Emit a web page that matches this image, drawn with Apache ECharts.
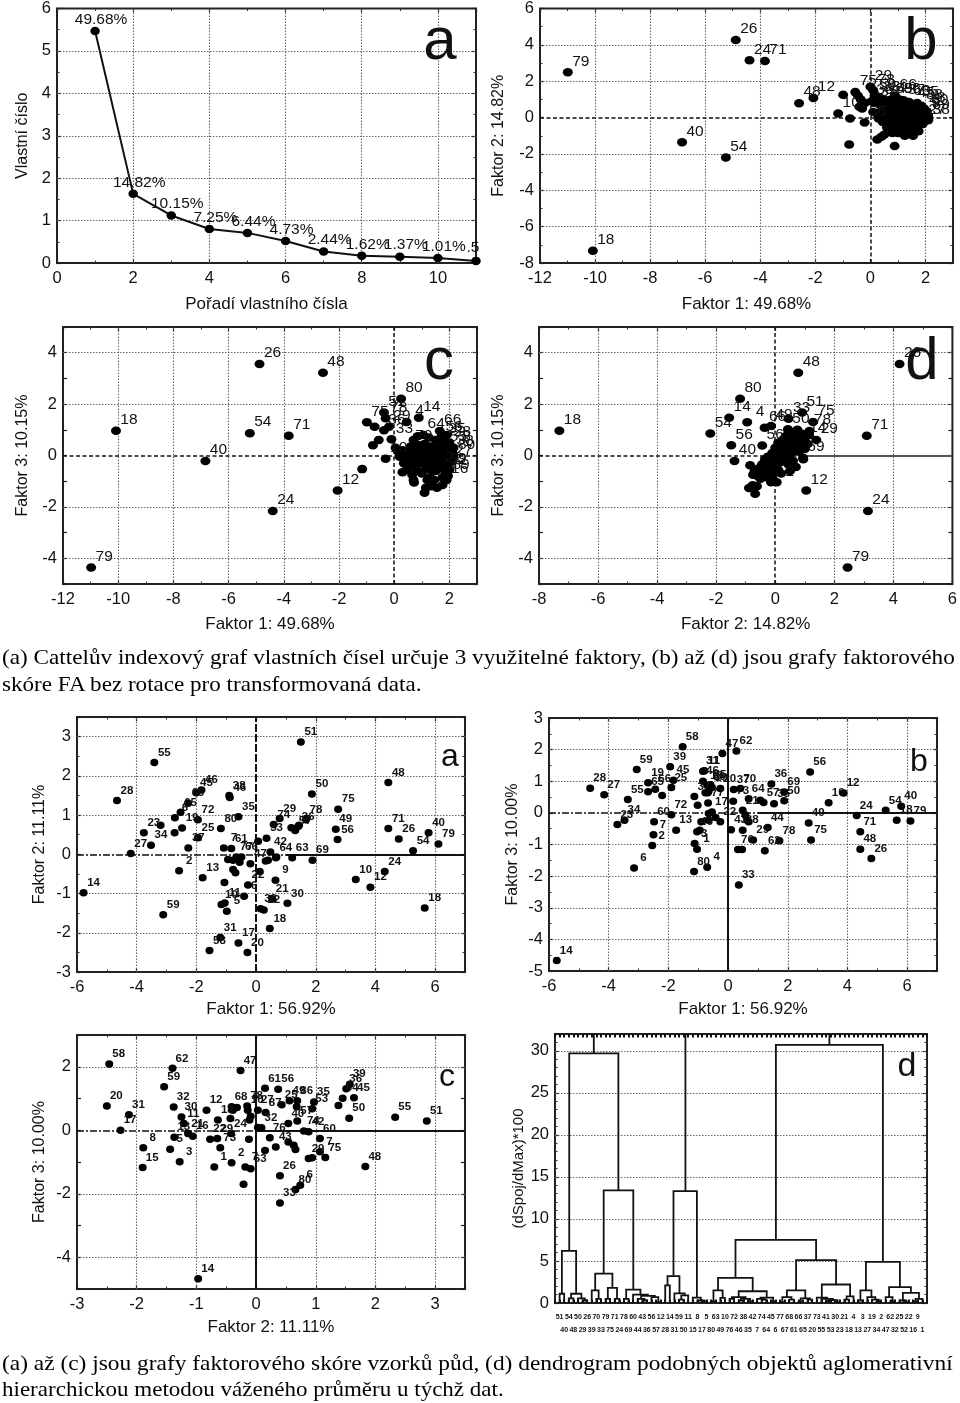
<!DOCTYPE html>
<html><head><meta charset="utf-8">
<script src="https://cdn.jsdelivr.net/npm/echarts@6/dist/echarts.min.js"></script>
<style>
html,body{margin:0;padding:0;background:#fff;width:960px;height:1403px;overflow:hidden}
#chart{position:absolute;left:0;top:0;width:960px;height:1403px;filter:blur(0.45px)}
.cap{position:absolute;left:2px;font-family:"Liberation Serif",serif;font-size:21px;line-height:24px;color:#000;white-space:nowrap;transform-origin:left top}
</style></head><body>
<div id="chart"></div>
<div class="cap" data-w="953" style="top:645px">(a) Cattelův indexový graf vlastních čísel určuje 3 využitelné faktory, (b) až (d) jsou grafy faktorového</div>
<div class="cap" data-w="420" style="top:672px">skóre FA bez rotace pro transformovaná data.</div>
<div class="cap" data-w="951" style="top:1351px">(a) až (c) jsou grafy faktorového skóre vzorků půd, (d) dendrogram podobných objektů aglomerativní</div>
<div class="cap" data-w="502" style="top:1377px">hierarchickou metodou váženého průměru u týchž dat.</div>
<script>
document.querySelectorAll('.cap').forEach(c=>{c.style.transform='scaleX('+(+c.dataset.w/c.offsetWidth)+')';});
// ---- scree plot values
const screeOrder = [1,2,3,4,5,6,7,8,9,10,11];
const screeValues = [5.47,1.63,1.12,0.80,0.71,0.52,0.27,0.17,0.15,0.12,0.05];
const screeLabels = ['49.68%','14.82%','10.15%','7.25%','6.44%','4.73%','2.44%','1.62%','1.37%','1.01%','.5'];

// ---- upper panels: factor scores [x, y, label]
const upperB = [[-10.99,2.49,'79'],[-4.89,4.27,'26'],[-4.39,3.15,'24'],[-3.83,3.11,'71'],[-2.59,.79,'48'],[-2.07,1.08,'12'],[-.99,1.25,''],[-1.17,.22,'10'],[-.74,-.05,''],[-.21,-.27,'56'],[-.77,-1.48,''],[.88,-1.56,''],[-6.84,-1.36,'40'],[-5.25,-2.2,'54'],[-10.08,-7.33,'18'],
[-.55,1.4,'75'],[-.45,1.2,''],[-.35,1,''],[-.2,.8,''],[-.4,.6,''],[-.3,.5,''],[0,1.7,'29'],[.1,1.5,'78'],[.15,1.2,'50'],[.3,1.1,'33'],[.05,.9,'36'],[.2,.8,'35'],[.35,.7,''],[.5,1,'14'],[.6,.85,''],[.75,1,'69'],[.9,1.2,'66'],[.7,.6,''],[.9,.7,''],[1.05,1,'86'],[1.2,.95,'37'],[1.4,.85,'60'],[1.55,.75,'45'],[1.7,.8,'55'],[1.85,.65,'38'],[1.95,.5,'28'],[2.05,.35,'80'],[2.1,.1,'89'],[2.1,-.15,'38'],[1.95,-.2,'27'],[1.9,.2,'9'],[1.8,.3,''],[1.6,.45,''],[1.4,.5,''],[1.2,.6,''],[1,.45,''],[.8,.3,''],[.6,.4,''],[.4,.35,''],[.25,.2,''],[.1,.3,''],[.3,-.05,''],[.5,.05,''],[.7,.05,''],[.9,.15,''],[1.1,.2,''],[1.3,.25,''],[1.5,.15,''],[1.7,.05,''],[1.9,-.05,''],[1.9,-.35,''],[.45,-.25,''],[.65,-.3,''],[.85,-.25,''],[1.05,-.15,''],[1.25,-.05,''],[1.45,-.1,''],[1.65,-.25,''],[1.75,-.45,''],[.6,-.55,''],[.8,-.6,''],[1,-.5,''],[1.2,-.4,''],[1.4,-.45,''],[1.6,-.6,''],[1.75,-.75,''],[1.3,-.7,''],[1.5,-.85,''],[1.55,-1,''],[.5,-.95,''],[.4,-1.05,''],[.25,-1.2,''],[1,-.85,''],[1.25,-1,''],[.8,-.85,''],[1.35,.6,''],[.95,.3,'']];

const upperC = [[-10.98,-4.36,'79'],[-10.08,.96,'18'],[-4.88,3.56,'26'],[-2.58,3.22,'48'],[-5.23,.87,'54'],[-3.82,.77,'71'],[-6.84,-.21,'40'],[-4.4,-2.16,'24'],[-2.05,-1.36,'12'],[-1.16,-.53,''],[-.31,-.13,'10'],[-.99,1.29,'75'],[-.71,1.12,''],[-.31,1.45,'78'],[-.37,1.67,'51'],[.25,2.21,'80'],[.89,1.47,'14'],[.45,1.3,'4'],[-.77,.4,''],[-.56,.6,''],[-.37,.98,'36'],[-.19,1.12,'29'],[-.1,.63,'33'],
[.05,.3,''],[.15,.15,''],[.2,-.05,''],[.3,.2,''],[.35,-.3,''],[.3,-.65,''],[.45,-.55,''],[.45,-.15,''],[.5,.1,''],[.55,-.4,''],[.65,-.75,''],[.7,-.95,''],[.72,-1.05,''],[.8,-.55,''],[.85,-.3,''],[.7,-.1,''],[.75,.15,''],[.6,.35,'70'],[.7,.6,''],[.85,.75,''],[.9,.4,''],[1,.2,''],[1,-.05,''],[1,-.3,''],[1,-.7,''],[1.15,-.5,''],[1.1,-.15,''],[1.15,.1,''],[1.1,.45,''],[1.05,.8,'64'],[1.25,.7,''],[1.3,.35,''],[1.3,.05,''],[1.3,-.25,''],[1.3,-.55,''],[1.3,-.85,''],[1.15,-1.25,''],[1.35,-1.2,''],[1.1,-1.45,''],[1.55,-1.25,''],[1.45,-.95,''],[1.5,-.6,''],[1.5,-.3,''],[1.5,0,''],[1.5,.3,''],[1.5,.6,''],[1.65,.95,'66'],[1.7,.7,'56'],[1.75,.4,''],[1.7,.1,''],[1.7,-.2,''],[1.7,-.5,'22'],[1.75,-.85,''],[1.75,-1.15,''],[1.9,-.95,'16'],[1.85,-.6,'52'],[1.95,-.3,''],[1.95,0,''],[1.85,.3,'55'],[1.8,.6,'35'],[1.9,.8,''],[2,.5,'28'],[2.1,.15,'38'],[2.05,-.25,'27'],[2,-.55,'9'],[1.95,-.8,'89'],[2.15,.3,'8'],[2.15,0,'80'],[2.1,-.1,''],[.85,.15,''],[1.2,-.95,''],[.55,-.15,'']];

const upperD = [[-7.31,.96,'18'],[4.21,3.56,'26'],[.78,3.22,'48'],[3.1,.77,'71'],[3.14,-2.16,'24'],[2.45,-4.36,'79'],[1.05,-1.36,'12'],[-2.2,.86,'54'],[-1.56,1.47,'14'],[-1.19,2.21,'80'],[-.95,1.29,'4'],[-1.49,.4,'56'],[-1.38,-.21,'40'],[.91,1.67,'51'],[.45,1.43,'33'],[1.28,1.3,'75'],[1.16,.95,'78'],[1.39,.6,'29'],[.94,-.09,'69'],[.43,1.02,'50'],[-.36,1.08,'66'],[-.14,1.15,'49'],[-.85,-.38,''],[-.89,-1.26,''],[-.76,-1.16,''],[-.62,-1.2,''],[-.68,-1.49,''],[-.14,-1.04,''],[-.44,.39,'56'],[.05,-1.04,'2'],
[-.75,-.75,''],[-.7,-.6,''],[-.6,-.8,''],[-.55,-.5,''],[-.5,-.9,''],[-.45,-.35,''],[-.4,-.7,''],[-.35,-.15,''],[-.3,-.5,''],[-.3,-.85,''],[-.25,-.05,''],[-.2,-.3,''],[-.15,-.6,''],[-.1,.1,''],[-.1,-.15,''],[-.1,-.85,''],[-.05,-.4,''],[0,.3,''],[0,-.1,''],[0,-.65,''],[.05,.1,''],[.05,-.3,''],[.1,.5,''],[.1,-.05,''],[.1,-.55,''],[.15,.25,''],[.2,.05,''],[.2,-.25,''],[.2,-.7,''],[.25,.6,''],[.25,.35,''],[.3,.15,''],[.3,-.1,''],[.35,.75,''],[.35,.45,''],[.4,.25,''],[.4,-.05,''],[.45,-.35,''],[.45,.95,''],[.5,.6,''],[.5,.35,''],[.55,.1,''],[.6,.85,''],[.6,.5,''],[.6,-.2,''],[.65,.25,''],[.7,.7,''],[.7,.4,''],[.75,1,''],[.8,.6,''],[.8,.15,''],[.85,.35,''],[.9,.85,''],[.9,.5,''],[1,.65,'14'],[1,.25,''],[1.1,.45,''],[1.15,.8,''],[.95,-.15,''],[.7,-.45,''],[.5,-.6,'']];

// ---- lower panels: factor scores [x, y, label]
const lowerA = [[1.5,2.86,'51'],[-3.41,2.34,'55'],[4.43,1.83,'48'],[-4.66,1.37,'28'],[1.87,1.54,'50'],[-2,1.57,'45'],[-1.83,1.64,'46'],[-.9,1.5,'38'],[-.88,1.45,'46'],[-.59,.96,'35'],[2.75,1.15,'75'],[.79,.91,'29'],[.59,.76,'74'],[.35,.41,'33'],[1.67,.88,'78'],[1.41,.71,'36'],[1.18,.68,''],[1.31,.61,'57'],[1.44,.74,''],[1.69,.91,''],[2.67,.64,'49'],[2.73,.38,'56'],[4.43,.66,'71'],[4.78,.39,'26'],[5.78,.55,'40'],[6.11,.26,'79'],[5.26,.09,'54'],[1.89,-.15,'69'],[1.21,-.09,'63'],[.48,.06,'42'],[.66,-.09,'64'],[4.31,-.44,'24'],[3.34,-.64,'10'],[3.83,-.84,'12'],[5.65,-1.37,'18'],[.65,-.66,'9'],[.54,-1.13,'21'],[.15,-1.39,'38'],[.26,-1.42,'22'],[1.05,-1.25,'30'],[.46,-1.89,'18'],[.12,-.44,''],[-.27,-.78,'22'],[-.4,-1.07,'6'],[-1.2,-2.12,'31'],[-.59,-2.26,'17'],[-.29,-2.5,'20'],[-1.56,-2.45,'58'],[-3.11,-1.54,'59'],[-5.78,-.98,'14'],[-1.79,-.6,'13'],[-2.58,-.42,'2'],[-4.2,.02,'27'],[-3.52,.23,'34'],[-3.76,.55,'23'],[-3.2,.74,''],[-2.72,.93,'6'],[-2.53,1.07,'65'],[-2.28,1.3,'60'],[-2.48,.67,'19'],[-2.73,.55,''],[-1.95,.88,'72'],[-1.95,.42,'25'],[-2.27,.16,'37'],[-1.18,.66,'80'],[-1.08,.16,'7'],[-.83,.15,'61'],[-.66,-.07,'77'],[-.19,-.24,'47'],[-.94,-.13,''],[-.77,-.15,''],[-.6,-.11,''],[-.77,-.39,''],[-.69,-.47,''],[-.49,-.07,'66'],[-.55,-.2,''],[-1.06,-.72,''],[-1.16,-1.28,'10'],[-1.05,-1.24,'11'],[-.98,-1.45,'5'],[.07,.33,''],[.32,-.17,''],[.68,-.07,''],[.4,-.15,'']];

const lowerB = [[-5.74,-4.67,'14'],[.36,-2.28,'33'],[-1.14,-1.85,'80'],[-.7,-1.72,'4'],[-3.15,-1.74,'6'],[-2.5,-.69,'7'],[-2.54,-1.03,'2'],[-2.48,-.28,'60'],[-1.74,-.55,'13'],[-1.9,-.06,'72'],[-3.71,-.37,'23'],[-3.47,-.23,'34'],[-3.36,.42,'55'],[-4.15,.57,'27'],[-4.62,.78,'28'],[-3.06,1.37,'59'],[-2.68,.95,'19'],[-2.68,.67,'65'],[-2.44,.75,'66'],[-2.21,.55,''],[-1.94,1.46,'39'],[-1.83,1.03,'45'],[-1.9,.8,'25'],[-1.52,2.09,'58'],[-.19,1.88,'47'],[.28,1.96,'62'],[-.84,1.32,'31'],[-.79,1.33,'11'],[-.84,1,'46'],[-.7,.87,'16'],[-.62,.82,'86'],[-.59,.89,'55'],[-.76,.64,''],[-.65,.69,''],[-.54,.8,'19'],[-.68,.64,''],[-.26,.77,'20'],[-1.13,.52,'37'],[-1.02,.24,''],[-.67,.31,'77'],[-.54,.03,'17'],[-.65,-.02,''],[-.42,-.15,''],[-.26,-.28,'22'],[-.9,-.28,''],[-.65,-.23,''],[-1.04,-.6,'46'],[-.95,-.55,''],[-1.12,-.97,'3'],[-1.04,-1.15,'1'],[.1,-.53,'43'],[.17,.37,'73'],[.19,.74,'37'],[.41,.77,'70'],[.69,.45,'64'],[.49,.08,'21'],[.58,-.07,''],[.64,-.23,''],[.69,-.28,''],[.49,-.55,'38'],[.33,-1.16,'76'],[.47,-1.16,''],[.84,-.86,'29'],[1.23,-1.2,'62'],[1.33,-.46,'44'],[1.72,-.88,'78'],[1.08,.4,''],[1.19,.33,'57'],[1.54,.29,'35'],[1.45,.91,'36'],[1.88,.66,'69'],[1.88,.38,'50'],[2.75,1.29,'56'],[3.37,.32,'10'],[3.87,.63,'12'],[2.7,-.32,'49'],[2.78,-.86,'75'],[4.31,-.08,'24'],[4.43,-.6,'71'],[4.43,-1.15,'48'],[4.8,-1.44,'26'],[5.28,.08,'54'],[5.8,.21,'40'],[5.65,-.23,'18'],[6.11,-.26,'79']];

const lowerC = [[-.97,-4.68,'14'],[-2.46,2.09,'58'],[-1.4,1.95,'62'],[-.26,1.88,'47'],[-1.54,1.37,'59'],[-2.5,.76,'20'],[-2.13,.49,'31'],[-2.27,0,'17'],[-1.89,-.55,'8'],[-1.9,-1.17,'15'],[-1.44,-.6,'5'],[-1.28,-.99,'3'],[-1.38,.73,'32'],[-1.25,.42,'30'],[-1.21,.21,'11'],[-1.14,-.1,'21'],[-1.06,-.19,'16'],[-1.37,-.22,'13'],[-.83,.63,'12'],[-.64,.32,'18'],[-.77,-.28,'22'],[-.65,-.26,'29'],[-.6,-.55,'73'],[-.42,-.1,'24'],[-.12,-.28,''],[-.7,-1.16,'1'],[-.41,-1.02,'2'],[-.18,-1.16,'7'],[-.09,-1.21,'63'],[-.21,-1.7,''],[-.41,.74,'68'],[-.39,.63,''],[-.32,.72,''],[-.43,.37,''],[-.15,.76,'78'],[-.14,.63,'10'],[-.09,.44,''],[-.11,.32,''],[.03,.63,'27'],[.16,.56,'87'],[.15,1.32,'61'],[.37,1.29,'56'],[.43,.8,'25'],[.56,.93,'49'],[.03,.09,''],[.09,.08,'32'],[.23,-.24,'76'],[.33,-.53,'43'],[.15,-.64,''],[.54,.21,'40'],[.54,-.37,''],[.63,-.47,''],[.66,-.61,''],[.69,.93,'86'],[.68,.74,''],[.69,.29,'57'],[.8,-.02,'74'],[.88,-.05,'42'],[.97,.89,'35'],[.94,.68,'53'],[1.07,-.26,'60'],[1.07,-.68,'7'],[.88,-.89,'29'],[.94,-.87,''],[1.16,-.86,'75'],[.4,-1.43,'26'],[.74,-1.73,'6'],[.66,-1.87,'80'],[.4,-2.29,'33'],[1.38,.78,''],[1.45,1.01,'64'],[1.51,1.31,'36'],[1.57,1.45,'39'],[1.64,1.02,'45'],[1.56,.38,'50'],[1.83,-1.14,'48'],[2.33,.41,'55'],[2.86,.29,'51']];

// ---- dendrogram: leaf names in order, and merges [leftX, rightX, leftBase, rightBase, height]
const leafNames = ['51','40','54','48','50','29','26','39','70','33','79','75','71','24','78','69','60','44','43','36','56','57','12','28','14','31','59','50','11','15','8','17','5','80','63','49','10','76','72','46','38','35','42','7','74','64','45','6','77','67','68','61','66','65','37','20','73','55','41','53','30','23','21','18','4','13','3','27','19','34','2','47','62','32','25','52','22','16','9','1'];
const dendroMerges = [
[1,2,0,0,1.1],[3,4,0,0,.55],[6,7,0,0,.3],[5,6.5,0,.3,.55],[3.5,5.75,.55,.55,1.1],[1.5,4.6,1.1,1.1,6.2],
[9,10,0,0,.5],[8,9.5,0,.5,1.5],[11,12,0,0,.5],[13,14,0,0,.5],[11.5,13.5,.5,.5,1.8],[8.75,12.5,1.5,1.8,3.5],
[15,16,0,0,.5],[19,20,0,0,.3],[18,19.5,0,.3,.5],[22,23,0,0,.1],[21,22.5,0,.1,.7],[18.75,21.75,.5,.7,.85],[17,20.25,0,.85,1],[15.5,18.6,.5,1,1.6],[10.6,17.05,3.5,1.6,13.4],
[3.1,13.8,6.2,13.4,29.7],[8.45,8.45,29.7,32,32],
[24,25,0,0,2.1],[27,28,0,0,.4],[27.5,29,.4,0,.9],[26,28.25,0,.9,1.15],[24.5,27.1,2.1,1.15,3.2],
[32,33,0,0,.2],[31,32.5,0,.2,.3],[30,31.75,0,.3,.65],[25.8,30.9,3.2,.65,13.3],[28.4,28.4,13.3,32,32],
[34,35,0,0,.2],[36,37,0,0,.6],[34.5,36.5,.2,.6,1.5],
[38,39,0,0,.5],[40,41,0,0,.3],[42,43,0,0,.2],[40.5,42.5,.3,.2,.5],[38.5,41.5,.5,.5,.7],
[45,46,0,0,.4],[44,45.5,0,.4,.5],[47,48,0,0,.2],[44.75,47.5,.5,.2,.65],[40,46.1,.7,.65,1.4],[35.5,43.05,1.5,1.4,3],
[49,50,0,0,.1],[51,52,0,0,.4],[49.5,51.5,.1,.4,.7],[53,54,0,0,.1],[55,56,0,0,.4],[53.5,55.5,.1,.4,.55],[50.5,54.5,.7,.55,1.5],
[59,60,0,0,.2],[61,62,0,0,.1],[59.5,61.5,.2,.1,.35],[58,60.5,0,.35,.5],[57,59.25,0,.5,.65],[63,64,0,0,.4],[63.5,65,.4,0,.8],[58.1,64.25,.65,.8,2.2],[52.5,61.2,1.5,2.2,5.1],[39.3,56.85,3,5.1,7.5],
[66,67,0,0,.3],[70,71,0,0,.2],[69,70.5,0,.2,.4],[68,69.75,0,.4,.7],[66.5,68.9,.3,.7,1.5],
[73,74,0,0,.2],[72,73.5,0,.2,.7],[76,77,0,0,.1],[75,76.5,0,.1,.3],[78,79,0,0,.2],[78.5,80,.2,0,.5],[75.75,79.25,.3,.5,1.2],[72.75,77.5,.7,1.2,1.9],[67.7,75.1,1.5,1.9,4.9],
[48.1,71.4,7.5,4.9,30.7],[59.75,59.75,30.7,32,32]
];

// ---- tick labels
const ticksF1wide = [-12,-10,-8,-6,-4,-2,0,2];
const ticksF1 = [-6,-4,-2,0,2,4,6];
const ticksEven5 = [-4,-2,0,2,4];

const INK = '#111', FONT = '"Liberation Sans",Arial,sans-serif';
const grids=[],xAxes=[],yAxes=[],series=[],graphics=[];

function panel(cfg){
  const g = grids.length;
  grids.push({left:cfg.l,top:cfg.t,width:cfg.r-cfg.l,height:cfg.b-cfg.t,show:true,borderColor:'#222',borderWidth:2,backgroundColor:'transparent'});
  const fs = cfg.fs||16.5, ns = cfg.ns||17;
  const tick = {show:true,inside:true,length:4,lineStyle:{color:'#222',width:1.2}};
  const minor = n => ({show:n>1,splitNumber:n,length:2.5,lineStyle:{color:'#333',width:1}});
  xAxes.push({type:'value',gridIndex:g,min:cfg.x[0],max:cfg.x[1],interval:cfg.x[2],position:'bottom',
    axisLine:{show:false,onZero:false},splitLine:{show:false},axisTick:cfg.xTick||tick,minorTick:minor(cfg.xMinor||1),
    axisLabel:cfg.xLabel||{color:INK,fontFamily:FONT,fontSize:fs,margin:cfg.xm||7,showMinLabel:true,showMaxLabel:true,formatter:v=>cfg.xt.includes(v)?String(v):''},
    name:cfg.xn,nameLocation:'middle',nameGap:cfg.xg,nameTextStyle:{color:INK,fontFamily:FONT,fontSize:ns}});
  xAxes.push({type:'value',gridIndex:g,min:cfg.x[0],max:cfg.x[1],interval:cfg.x[2],position:'top',
    axisLine:{show:false,onZero:false},splitLine:{show:false},axisLabel:{show:false},axisTick:cfg.xTick||tick,minorTick:minor(cfg.xMinor||1)});
  yAxes.push({type:'value',gridIndex:g,min:cfg.y[0],max:cfg.y[1],interval:cfg.y[2],position:'left',
    axisLine:{show:false,onZero:false},splitLine:{show:false},axisTick:tick,minorTick:minor(cfg.yMinor||1),
    axisLabel:{color:INK,fontFamily:FONT,fontSize:fs,margin:6,formatter:v=>cfg.yt.includes(v)?String(v):''},
    name:cfg.yn,nameLocation:'middle',nameGap:cfg.yg,nameTextStyle:{color:INK,fontFamily:FONT,fontSize:cfg.yns||16}});
  yAxes.push({type:'value',gridIndex:g,min:cfg.y[0],max:cfg.y[1],interval:cfg.y[2],position:'right',
    axisLine:{show:false,onZero:false},splitLine:{show:false},axisLabel:{show:false},axisTick:tick,minorTick:minor(cfg.yMinor||1)});
  const xi=2*g, yi=2*g;
  const dot={color:'#666',width:1.1,type:[1.5,1.5]};
  const ml=[];
  (cfg.xGrid||[]).forEach(v=>ml.push({xAxis:v,lineStyle:dot}));
  (cfg.yGrid||[]).forEach(v=>ml.push({yAxis:v,lineStyle:dot}));
  (cfg.zero||[]).forEach(z=>ml.push([{coord:z[0],lineStyle:z[2]},{coord:z[1]}]));
  series.push({type:'line',xAxisIndex:xi,yAxisIndex:yi,data:[],z:1,silent:true,
    markLine:{silent:true,symbol:'none',animation:false,label:{show:false},z:1,data:ml}});
  if(cfg.points) series.push({type:'scatter',xAxisIndex:xi,yAxisIndex:yi,z:3,symbol:'circle',symbolSize:cfg.ms||[10,8.5],
    itemStyle:{color:'#000',opacity:1},data:cfg.points,silent:true,
    label:{show:true,position:'inside',offset:cfg.lo,color:'#111',fontFamily:FONT,fontSize:cfg.lf,fontWeight:cfg.lw||'normal',formatter:p=>p.data[2]}});
  if(cfg.letter) graphics.push({type:'text',z:50,style:{text:cfg.letter[0],x:cfg.letter[1],y:cfg.letter[2],font:cfg.letter[3]+'px '+FONT,fill:'#111',textAlign:'center',textVerticalAlign:'bottom'}});
  return {xi,yi};
}
const dashK={color:'#111',width:1.5,type:[4,2.5]};
const dashDot={color:'#111',width:1.5,type:[7,2,2,2]};
const longDash={color:'#111',width:2,type:[8,2]};
const solidK={color:'#111',width:2,type:'solid'};
const solidG={color:'#555',width:2,type:'solid'};

// Top a : scree
const pa=panel({l:57,r:476,t:8,b:263,x:[0,11,2],y:[0,6,1],xt:[0,2,4,6,8,10],yt:[0,1,2,3,4,5,6],xMinor:2,yMinor:2,
  xn:'Pořadí vlastního čísla',xg:33,yn:'Vlastní číslo',yg:26,xGrid:[2,4,6,8,10],yGrid:[1,2,3,4,5],letter:['a',440,72,60]});
series.push({type:'line',xAxisIndex:pa.xi,yAxisIndex:pa.yi,z:3,clip:true,silent:true,symbol:'circle',symbolSize:[9.5,8.5],
  lineStyle:{color:'#111',width:2},itemStyle:{color:'#000'},
  data:screeOrder.map((o,i)=>({value:[o,screeValues[i]],labelText:screeLabels[i],label:i===10?{offset:[-3,-13]}:{}})),
  label:{show:true,position:'inside',offset:[6,-11.5],color:'#111',fontFamily:FONT,fontSize:15.5,formatter:p=>p.data.labelText}});

// Top b, c, d
panel({l:540,r:953,t:8,b:263,x:[-12,3,2],y:[-8,6,2],xt:ticksF1wide,yt:[-8,-6,-4,-2,0,2,4,6],xMinor:2,yMinor:2,
  xn:'Faktor 1: 49.68%',xg:33,yn:'Faktor 2: 14.82%',yg:33,xGrid:[-10,-8,-6,-4,-2,2],yGrid:[-6,-4,-2,2,4],
  zero:[[[-12,0],[3,0],dashK],[[0,-8],[0,6],dashK]],points:upperB,lo:[13,-11],lf:15.5,letter:['b',921,72,60]});
panel({l:63,r:477,t:327,b:584,x:[-12,3,2],y:[-5,5,1],xt:ticksF1wide,yt:ticksEven5,xMinor:2,
  xn:'Faktor 1: 49.68%',xg:32,yn:'Faktor 3: 10.15%',yg:32,xGrid:[-10,-8,-6,-4,-2,2],yGrid:[-4,-2,2,4],
  zero:[[[-12,0],[3,0],dashK],[[0,-5],[0,5],dashK]],points:upperC,lo:[13,-11],lf:15.5,letter:['c',439,392,60]});
panel({l:539,r:953,t:327,b:584,x:[-8,6,2],y:[-5,5,1],xt:[-8,-6,-4,-2,0,2,4,6],yt:ticksEven5,xMinor:2,
  xn:'Faktor 2: 14.82%',xg:32,yn:'Faktor 3: 10.15%',yg:32,xGrid:[-6,-4,-2,2,4],yGrid:[-4,-2,2,4],
  zero:[[[-8,0],[1,0],dashK],[[1,0],[6,0],solidG],[[0,-5],[0,5],dashK]],points:upperD,lo:[13,-11],lf:15.5,letter:['d',922,392,60]});

// Lower a, b, c
panel({l:77,r:465,t:717,b:972,x:[-6,7,2],y:[-3,3.5,1],xt:ticksF1,yt:[-3,-2,-1,0,1,2,3],xMinor:2,yMinor:2,
  xn:'Faktor 1: 56.92%',xg:29,yn:'Faktor 2: 11.11%',yg:29,xGrid:[-4,-2,2,4,6],yGrid:[-2,-1,1,2,3],
  zero:[[[-6,0],[1,0],dashDot],[[1,0],[7,0],solidK],[[0,-3],[0,3.5],longDash]],points:lowerA,lo:[10,-10],lf:11.5,lw:'bold',ms:[8,7.5],letter:['a',450,773,32]});
panel({l:549,r:937,t:718,b:971,x:[-6,7,2],y:[-5,3,1],xt:ticksF1,yt:[-5,-4,-3,-2,-1,0,1,2,3],xMinor:2,yMinor:2,
  xn:'Faktor 1: 56.92%',xg:30,yn:'Faktor 3: 10.00%',yg:28,xGrid:[-4,-2,2,4,6],yGrid:[-4,-3,-2,-1,1,2],
  zero:[[[-6,0],[1,0],dashDot],[[1,0],[7,0],solidK],[[0,-5],[0,3],solidK]],points:lowerB,lo:[9.5,-10],lf:11.5,lw:'bold',ms:[8,7.5],letter:['b',919,778,32]});
panel({l:77,r:465,t:1035,b:1289,x:[-3,3.5,1],y:[-5,3,1],xt:[-3,-2,-1,0,1,2,3],yt:[-4,-2,0,2],xMinor:2,
  xn:'Faktor 2: 11.11%',xg:30,yn:'Faktor 3: 10.00%',yg:29,xGrid:[-2,-1,1,2,3],yGrid:[-4,-2,2],
  zero:[[[-3,0],[0,0],dashDot],[[0,0],[3.5,0],solidK],[[0,-5],[0,3],solidK]],points:lowerC,lo:[9.5,-10],lf:11.5,lw:'bold',ms:[8,7.5],letter:['c',447,1093,32]});

// Lower d : dendrogram
const pd=panel({l:555,r:927,t:1034,b:1303,x:[0,81,1],y:[0,32,5],xt:[],yt:[0,5,10,15,20,25,30],yMinor:5,
  xTick:{show:true,inside:true,length:3.5,lineStyle:{color:'#111',width:2}},
  xLabel:{color:'#111',fontFamily:'"Liberation Sans Narrow","Liberation Sans",sans-serif',fontSize:7,fontWeight:'bold',margin:8,lineHeight:13,showMinLabel:true,showMaxLabel:true,
    formatter:v=>{const n=leafNames[v-1]; if(!n)return ''; return v%2? n : '\n'+n;}},
  yn:'(dSpoj/dMax)*100',yg:28,yns:15,yGrid:[5,10,15,20,25,30],letter:['d',907,1084,34]});
series.push({type:'custom',xAxisIndex:pd.xi,yAxisIndex:pd.yi,z:3,silent:true,clip:true,data:dendroMerges,
  encode:{x:[0,1],y:[2,3,4]},
  renderItem:(p,api)=>{
    const xl=api.value(0),xr=api.value(1),hl=api.value(2),hr=api.value(3),h=api.value(4);
    return {type:'polyline',shape:{points:[api.coord([xl,hl]),api.coord([xl,h]),api.coord([xr,h]),api.coord([xr,hr])]},
      style:{stroke:'#111',lineWidth:1.8,fill:null}};
  }});

const chart=echarts.init(document.getElementById('chart'));
chart.setOption({animation:false,backgroundColor:'#fff',grid:grids,xAxis:xAxes,yAxis:yAxes,series,graphic:graphics});
</script>
</body></html>
